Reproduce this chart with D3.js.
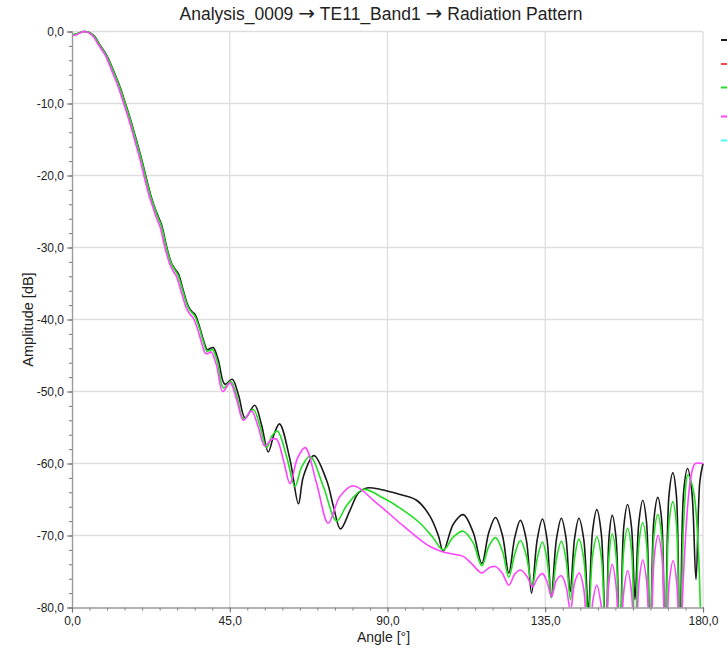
<!DOCTYPE html>
<html>
<head>
<meta charset="utf-8">
<script src="https://cdn.jsdelivr.net/npm/d3@7/dist/d3.min.js"></script>
<style>
  html, body { margin: 0; padding: 0; background: #fff; }
  svg text { font-family: "Liberation Sans", Arial, sans-serif; fill: #222; }
</style>
</head>
<body>
<svg id="chart" width="728" height="648"></svg>
<script>
// ---------- data ----------
const titleParts = ["Analysis_0009", "TE11_Band1", "Radiation Pattern"];
const titleSep = "\u2192";
const xLabel = "Angle [\u00b0]";
const yLabel = "Amplitude [dB]";
const xTicks = [0, 45, 90, 135, 180];
const yTicks = [-80, -70, -60, -50, -40, -30, -20, -10, 0];

// series: [angle in degrees, amplitude in dB]
const seriesBlack = [
  [0,-0.5],[1.5,-0.3],[3.7,0],[6.1,-0.5],[8,-1.9],[9.9,-3.3],[11.8,-5.4],[13.7,-7.7],[15.1,-9.8],[16.5,-11.9],
  [18.2,-14.8],[19.9,-17.8],[21.3,-20.6],[22.5,-22.8],[23.7,-24.6],[24.6,-25.7],[25.6,-26.9],[27,-29.9],[28.4,-32.2],
  [29.4,-33.0],[30.3,-33.6],[31.7,-35.9],[33.2,-38.2],[34.2,-38.9],[35.1,-39.3],[36.5,-41.2],[37.5,-42.9],[38.6,-44.2],
  [39.5,-44.0],[40.3,-43.9],[41.7,-45.6],[43.6,-49.0],[45.7,-48.3],[47.5,-50.5],[49.4,-53.7],[52.1,-51.9],[54,-54.5],
  [56.0,-58.4],[57.6,-56.0],[59.2,-54.5],[62.2,-59.5],[64.6,-65.6],[66.0,-61.8],[69.0,-58.9],[72.6,-62.3],[74.6,-66.0],
  [76.6,-69.1],[79.3,-66.5],[81.7,-64.1],[84.1,-63.4],[88,-63.6],[93.6,-64.3],[98.3,-65.1],[102.1,-67.3],[104.5,-70],
  [105.9,-72.2],[108.8,-68.4],[111.6,-67.1],[114.4,-69.5],[116.9,-73.9],[118.9,-69.6],[120.8,-67.5],[122.8,-70.0],
  [124.6,-75.2],[126.3,-70.3],[127.9,-67.9],[129.6,-70.6],[131.1,-78.0],[132.7,-70.6],[134.2,-67.7],[135.5,-70.5],
  [136.7,-78.6],[138.2,-70.5],[139.6,-67.6],[140.9,-70.3],[142.1,-77.8],[143.4,-70.3],[144.6,-67.6],[146.0,-70.6],
  [147.3,-80.5],[148.5,-69.4],[149.7,-66.4],[151.0,-69.8],[152.3,-88],[153.2,-70.2],[154.1,-67.2],[155.2,-70.4],
  [156.3,-88],[157.4,-68.8],[158.5,-65.7],[159.6,-68.8],[160.6,-78.9],[161.7,-68.2],[162.8,-65.1],[163.9,-68.2],
  [164.9,-88],[166.0,-67.8],[167.1,-64.7],[168.2,-67.8],[169.2,-88],[170.3,-64.4],[171.4,-61.3],[172.4,-64.4],
  [173.4,-88],[174.5,-63.8],[175.6,-60.7],[176.8,-63.8],[178.0,-76.1],[179.1,-62.5],[180,-60.0]
];

const seriesGreen = [
  [0,-0.5],[1.5,-0.3],[3.6,0],[6,-0.5],[7.9,-1.9],[9.8,-3.3],[11.7,-5.4],[13.6,-7.7],[15,-9.8],[16.4,-11.9],
  [18.1,-14.8],[19.8,-17.8],[21.2,-20.6],[22.4,-22.8],[23.6,-24.6],[24.5,-25.8],[25.5,-27.0],[26.9,-29.9],[28.3,-32.2],
  [29.3,-33.1],[30.2,-33.8],[31.6,-36.0],[33.1,-38.3],[34.1,-39.0],[35,-39.5],[36.4,-41.3],[37.4,-43.0],[38.5,-44.4],
  [39.3,-44.3],[40.1,-44.2],[41.5,-45.9],[43.2,-49.5],[45.3,-48.6],[47.1,-50.8],[48.9,-53.8],[51.7,-52.5],[53.6,-54.8],
  [55.5,-57.8],[57.0,-56.2],[58.6,-55.5],[61.3,-59.2],[63.6,-63.2],[65.5,-60.5],[67.9,-59.0],[71.7,-63.2],[75.5,-68.0],
  [78.4,-65.8],[83.1,-63.6],[88.8,-64.8],[93.6,-66.2],[99.3,-68.3],[103,-70.3],
  [105.9,-72.0],[108.8,-70.2],[111.6,-69.4],[114.4,-71.0],[116.9,-74.2],[118.9,-71.5],[120.8,-70.3],[122.8,-72.2],
  [124.6,-75.8],[126.3,-72.6],[127.9,-70.7],[129.6,-72.8],[131.3,-77.0],[132.8,-73.0],[134.2,-70.9],[135.5,-73.3],
  [136.8,-78.6],[138.2,-73.2],[139.6,-70.8],[140.9,-73.2],[142.2,-78.9],[143.4,-73.0],[144.6,-70.5],[146.0,-73.3],
  [147.3,-82],[148.5,-72.8],[149.7,-70.2],[151.0,-73.0],[152.3,-88],[153.2,-72.8],[154.1,-69.8],[155.2,-72.8],
  [156.3,-88],[157.4,-72.0],[158.5,-69.0],[159.6,-72.0],[160.6,-86],[161.7,-71.2],[162.8,-68.2],[163.9,-71.2],
  [164.9,-88],[166.0,-70.1],[167.1,-67.1],[168.2,-70.1],[169.2,-88],[170.3,-68.3],[171.4,-65.3],[172.4,-68.3],
  [173.4,-88],[174.5,-68.0],[175.7,-61.6],[176.7,-62.6],[177.7,-65.2],[178.7,-72.1],[179.2,-79.4],[180,-95]
];

const seriesMagenta = [
  [0,-0.6],[1.5,-0.4],[3.4,0],[5.7,-0.5],[7.6,-1.9],[9.5,-3.3],[11.3,-5.4],[13.2,-7.7],[14.6,-9.8],[16,-11.9],
  [17.7,-14.8],[19.4,-17.8],[20.8,-20.6],[22,-22.8],[23.2,-24.6],[24.1,-25.9],[25.1,-27.1],[26.5,-30.0],[27.9,-32.3],
  [28.9,-33.3],[29.8,-34.0],[31.2,-36.2],[32.7,-38.5],[33.7,-39.3],[34.6,-39.8],[36,-41.6],[37,-43.3],[38.1,-44.7],
  [38.9,-44.7],[39.7,-44.5],[41.2,-46.3],[43.0,-50.0],[45.1,-48.8],[46.9,-51.0],[48.9,-54.0],[51.2,-52.7],[53.1,-54.9],
  [55.0,-57.6],[56.8,-56.7],[58.3,-56.6],[60.3,-59.5],[62.2,-62.8],[64.3,-59.3],[66.5,-57.8],[69.8,-62.8],[73.1,-68.3],
  [76.4,-64.6],[80.2,-63.1],[86.9,-65.5],[93.6,-68.3],[98.3,-70.2],[102,-71.5],
  [105.9,-72.3],[109,-72.6],[111.6,-72.9],[114,-73.9],[116.9,-75.2],[118.9,-74.5],[120.7,-74.3],[122.7,-75.2],
  [124.6,-76.9],[126.4,-75.3],[128.0,-74.8],[129.8,-75.7],[131.4,-77.1],[132.8,-75.9],[134.2,-75.3],[135.5,-76.4],
  [136.8,-78.5],[138.2,-76.2],[139.6,-75.6],[140.9,-77.0],[142.2,-80.5],[143.4,-76.5],[144.7,-75.2],[146.0,-77.5],
  [147.3,-88],[148.6,-79.0],[149.7,-76.9],[150.9,-79.5],[152.2,-88],[153.1,-76.8],[154.1,-74.0],[155.2,-77.0],
  [156.3,-88],[157.4,-77.8],[158.5,-74.9],[159.6,-77.8],[160.6,-88],[161.8,-76.2],[162.8,-73.4],[163.9,-76.3],
  [165.0,-88],[166.1,-72.9],[167.2,-70.0],[168.3,-73.0],[169.3,-88],[170.4,-76.3],[171.5,-73.5],[172.5,-76.5],
  [173.5,-88],[174.2,-78],[174.8,-72],[175.6,-66],[176.4,-62.3],[177.2,-60.5],[177.8,-60.0],[180,-60.0]
];

const seriesColors = ["#1a1a1a", "#ff4444", "#22dd22", "#ff44ff", "#44ffff"];
const seriesData = [seriesBlack, null, seriesGreen, seriesMagenta, null];

// ---------- layout ----------
const svg = d3.select("#chart");
const plot = { left: 72, right: 703, top: 31.5, bottom: 607.5 };

const x = d3.scaleLinear().domain([0, 180]).range([plot.left, plot.right]);
const y = d3.scaleLinear().domain([-80, 0]).range([plot.bottom, plot.top]);

const loc = d3.formatLocale({ decimal: ",", thousands: ".", grouping: [3], currency: ["", ""], minus: "-" });
const fmt = loc.format(".1f");

// grid
const grid = svg.append("g").attr("stroke", "#dedede").attr("stroke-width", 1.3);
grid.selectAll("line.h").data(yTicks.filter(v => v > -80)).join("line")
  .attr("x1", plot.left).attr("x2", plot.right)
  .attr("y1", d => y(d)).attr("y2", d => y(d));
grid.selectAll("line.v").data(xTicks.filter(v => v > 0)).join("line")
  .attr("y1", plot.top).attr("y2", plot.bottom)
  .attr("x1", d => x(d)).attr("x2", d => x(d));

// clip
svg.append("clipPath").attr("id", "clip").append("rect")
  .attr("x", plot.left).attr("y", plot.top - 2)
  .attr("width", plot.right - plot.left + 1).attr("height", plot.bottom - plot.top + 2);

// lines
const line = d3.line()
  .x(d => x(d[0])).y(d => y(d[1]))
  .curve(d3.curveCatmullRom.alpha(0.5));

const linesG = svg.append("g").attr("clip-path", "url(#clip)");
seriesData.forEach((s, i) => {
  if (!s) return;
  linesG.append("path").datum(s)
    .attr("fill", "none")
    .attr("stroke", seriesColors[i])
    .attr("stroke-width", 1.6)
    .attr("stroke-linejoin", "round")
    .attr("d", line);
});

// axes
const axisG = svg.append("g");
const yAxis = d3.axisLeft(y).tickValues(yTicks).tickFormat(fmt).tickSize(5).tickPadding(3);
const yMinor = d3.axisLeft(y).tickValues(d3.range(-80, 0.1, 2)).tickFormat("").tickSize(3);
const xAxis = d3.axisBottom(x).tickValues(xTicks).tickFormat(fmt).tickSize(5).tickPadding(4);
const xMinor = d3.axisBottom(x).tickValues(d3.range(0, 180.1, 5)).tickFormat("").tickSize(3);

function styleAxis(g) {
  g.select(".domain").attr("stroke", "#999").attr("stroke-width", 1.2);
  g.selectAll(".tick line").attr("stroke", "#777");
  g.selectAll(".tick text").attr("font-size", 12).attr("fill", "#222")
    .attr("font-family", "Liberation Sans, Arial, sans-serif");
}
axisG.append("g").attr("transform", `translate(${plot.left},0)`).call(yMinor).call(styleAxis);
axisG.append("g").attr("transform", `translate(${plot.left},0)`).call(yAxis).call(styleAxis);
axisG.append("g").attr("transform", `translate(0,${plot.bottom})`).call(xMinor).call(styleAxis);
axisG.append("g").attr("transform", `translate(0,${plot.bottom})`).call(xAxis).call(styleAxis);

// title with wide arrows
const title = svg.append("text").attr("x", 381).attr("y", 20).attr("text-anchor", "middle")
  .attr("font-size", 17.5);
titleParts.forEach((p, i) => {
  if (i > 0) {
    title.append("tspan").text("\u00a0");
    title.append("tspan").attr("font-family", "DejaVu Sans, sans-serif").attr("font-size", 20)
      .text(titleSep);
    title.append("tspan").text("\u00a0");
  }
  title.append("tspan").text(p);
});

svg.append("text").attr("x", (plot.left + plot.right) / 2 - 4).attr("y", 641.5).attr("text-anchor", "middle")
  .attr("font-size", 14).text(xLabel);
svg.append("text").attr("transform", `translate(33,${(plot.top + plot.bottom) / 2}) rotate(-90)`)
  .attr("text-anchor", "middle").attr("font-size", 14.5).text(yLabel);

// legend swatches (labels fall outside the visible frame)
const legendY = [40, 64, 87.5, 116.5, 140.5];
svg.append("g").selectAll("line").data(seriesColors).join("line")
  .attr("x1", 721).attr("x2", 727)
  .attr("y1", (d, i) => legendY[i]).attr("y2", (d, i) => legendY[i])
  .attr("stroke", d => d).attr("stroke-width", 2);
</script>
</body>
</html>
